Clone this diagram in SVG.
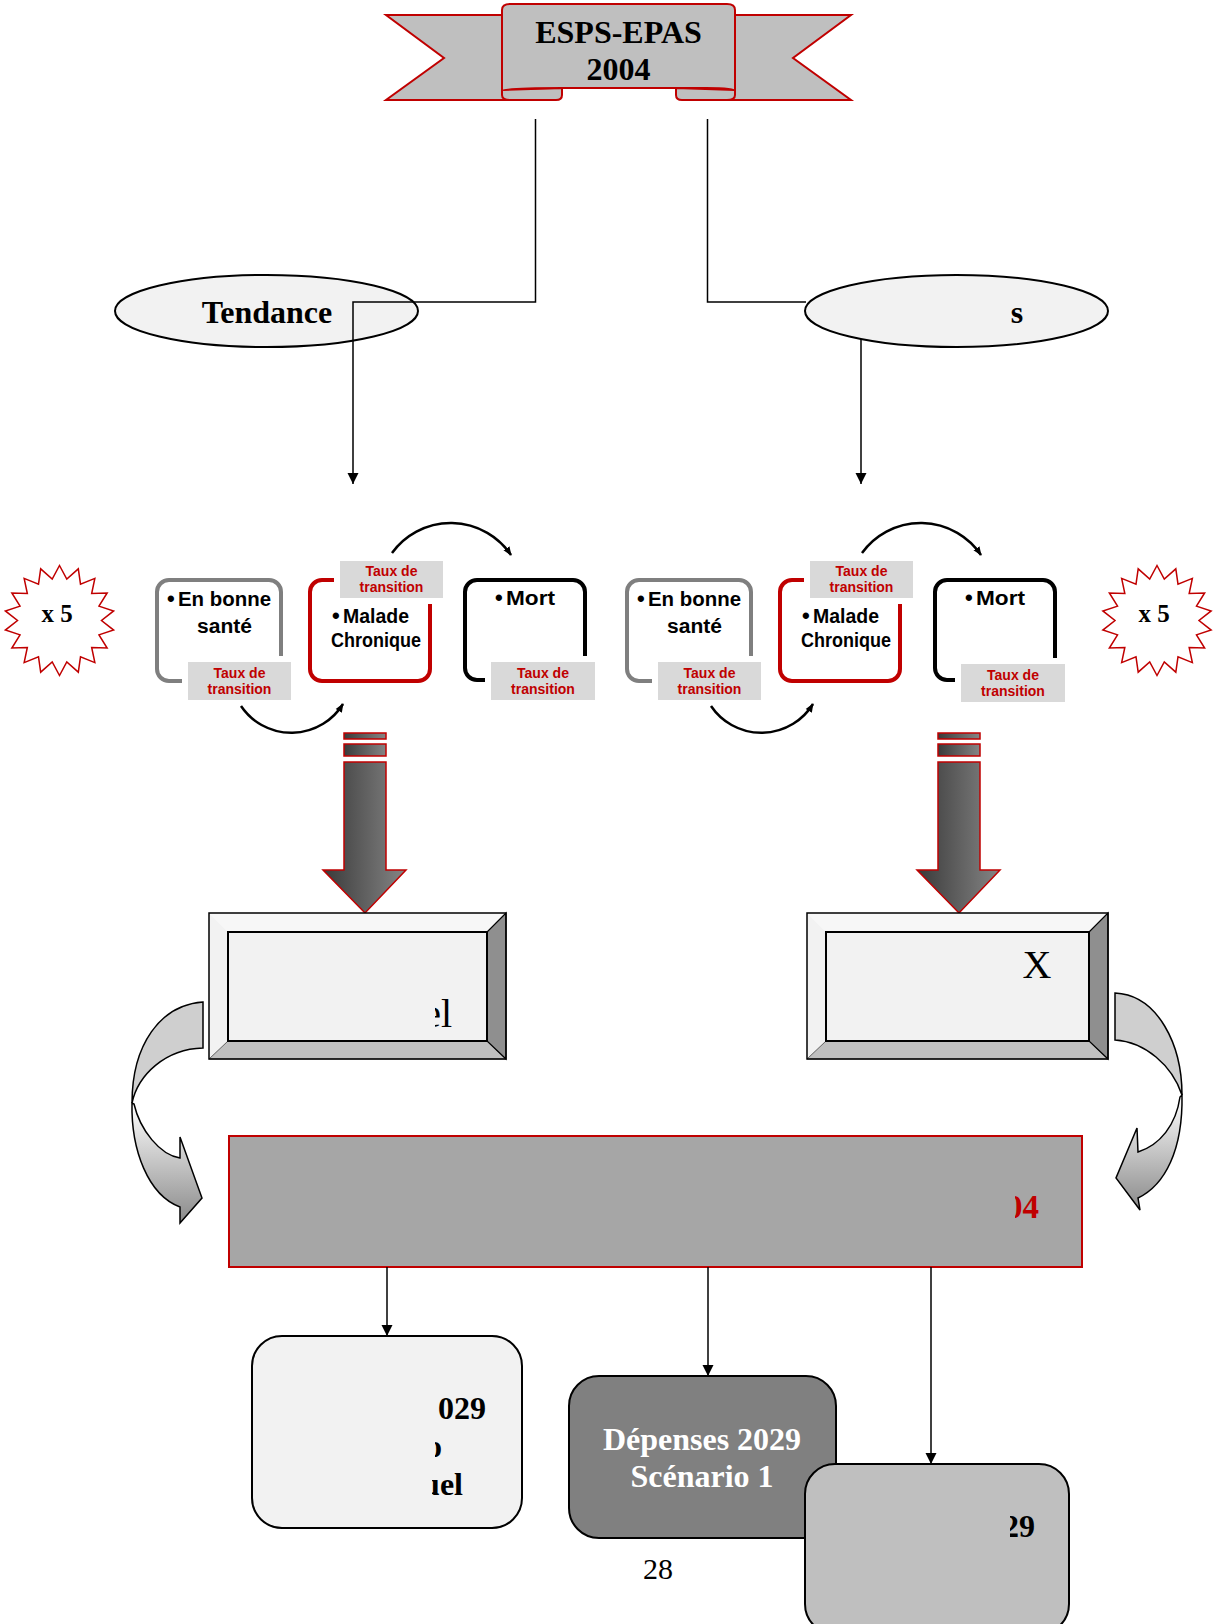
<svg xmlns="http://www.w3.org/2000/svg" width="1215" height="1624" viewBox="0 0 1215 1624">
<style>
.tnr{font-family:"Liberation Serif","Times New Roman",serif;font-weight:bold}
.reg{font-family:"Liberation Serif","Times New Roman",serif}
.cal{font-family:"Liberation Sans",Arial,sans-serif;font-weight:bold}
.taux{fill:#d9d9d9;stroke:#fff;stroke-width:12;paint-order:stroke}
.tauxt{font-family:"Liberation Sans",Arial,sans-serif;font-weight:bold;font-size:14px;fill:#c00000;text-anchor:middle}
.ntxt{font-size:19.5px;fill:#000}
.bul{font-size:22px}
.ell{fill:#f2f2f2;stroke:#000;stroke-width:2}
.conn{fill:none;stroke:#000;stroke-width:1.5}
.arc{fill:none;stroke:#000;stroke-width:2.5}
.bigarrow{fill:url(#gArrow);stroke:#c00000;stroke-width:1.5}
.rbox{stroke:#000;stroke-width:2}
</style>
<defs>
<marker id="ah" viewBox="0 0 10 10" refX="10" refY="5" markerUnits="userSpaceOnUse" markerWidth="11" markerHeight="14" orient="auto">
<path d="M0,0 L10,5 L0,10 Z" fill="#000"/>
</marker>
<marker id="ahs" viewBox="0 0 10 10" refX="9" refY="5" markerUnits="userSpaceOnUse" markerWidth="9" markerHeight="9" orient="auto">
<path d="M0,1 L10,5 L0,9 Z" fill="#000"/>
</marker>
<linearGradient id="gArrow" x1="0" y1="0" x2="1" y2="0">
<stop offset="0" stop-color="#3a3a3a"/>
<stop offset="1" stop-color="#858585"/>
</linearGradient>
<linearGradient id="gCurve" x1="0" y1="0" x2="0" y2="1">
<stop offset="0" stop-color="#ffffff"/>
<stop offset="1" stop-color="#8a8a8a"/>
</linearGradient>
<polygon id="star" points="0,-55 7.29,-41.36 18.81,-51.68 21,-36.37 35.35,-42.13 32.17,-27 47.63,-27.5 39.47,-14.36 54.16,-9.55 42,0 54.16,9.55 39.47,14.36 47.63,27.5 32.17,27 35.35,42.13 21,36.37 18.81,51.68 7.29,41.36 0,55 -7.29,41.36 -18.81,51.68 -21,36.37 -35.35,42.13 -32.17,27 -47.63,27.5 -39.47,14.36 -54.16,9.55 -42,0 -54.16,-9.55 -39.47,-14.36 -47.63,-27.5 -32.17,-27 -35.35,-42.13 -21,-36.37 -18.81,-51.68 -7.29,-41.36" fill="#fff" stroke="#c00000" stroke-width="1.5"/>
<clipPath id="clipB1"><rect x="435" y="930" width="60" height="110"/></clipPath>
<clipPath id="clipMain"><rect x="1015" y="1180" width="60" height="50"/></clipPath>
<clipPath id="clipL2"><rect x="435" y="1425" width="60" height="40"/></clipPath>
<clipPath id="clipL3"><rect x="432" y="1465" width="60" height="40"/></clipPath>
<clipPath id="clipB3"><rect x="1010" y="1500" width="60" height="45"/></clipPath>
</defs>
<rect width="1215" height="1624" fill="#fff"/>

<!-- Banner -->
<g id="banner">
<polygon points="386,15 520,15 520,100 386,100 444,58" fill="#bfbfbf" stroke="#c00000" stroke-width="2"/>
<polygon points="851,15 715,15 715,100 851,100 793,58" fill="#bfbfbf" stroke="#c00000" stroke-width="2"/>
<path d="M502,90 L502,95 Q502,100 510,100 L556,100 Q562,100 562,95 L562,88 Z" fill="#bfbfbf" stroke="#c00000" stroke-width="2"/>
<path d="M735,90 L735,95 Q735,100 727,100 L682,100 Q676,100 676,95 L676,88 Z" fill="#bfbfbf" stroke="#c00000" stroke-width="2"/>
<path d="M502,91 L502,10 Q502,4 510,4 L727,4 Q735,4 735,10 L735,91 Q735,88 706,88 L562,88 Q502,88 502,91 Z" fill="#bfbfbf" stroke="#c00000" stroke-width="2"/>
<text class="tnr" x="618.5" y="43" font-size="32" text-anchor="middle">ESPS-EPAS</text>
<text class="tnr" x="618.5" y="80" font-size="32" text-anchor="middle">2004</text>
</g>

<!-- Ellipses -->
<g id="tendance">
<ellipse class="ell" cx="266.5" cy="311" rx="151.5" ry="36"/>
<text class="tnr" x="267" y="323" font-size="32" text-anchor="middle">Tendance</text>
</g>
<g id="scenarios">
<ellipse class="ell" cx="956.5" cy="311" rx="151.5" ry="36"/>
<text class="tnr" x="1017" y="323" font-size="32" text-anchor="middle">s</text>
</g>

<!-- Stars -->
<g id="star-left">
<use href="#star" transform="translate(59.5,620.5)"/>
<text class="tnr" x="57" y="622" font-size="25" text-anchor="middle">x 5</text>
</g>
<g id="star-right">
<use href="#star" transform="translate(1157,620.5)"/>
<text class="tnr" x="1154" y="622" font-size="25" text-anchor="middle">x 5</text>
</g>

<!-- Left cycle -->
<g id="cycle-left">
<g id="cl-sante">
<rect x="157" y="580" width="124" height="101" rx="12" fill="none" stroke="#7f7f7f" stroke-width="4"/>
<text class="cal ntxt bul" x="167" y="606">•</text>
<text class="cal ntxt" x="178" y="606" textLength="93" lengthAdjust="spacingAndGlyphs">En bonne</text>
<text class="cal ntxt" x="197" y="633" textLength="55" lengthAdjust="spacingAndGlyphs">santé</text>
<rect class="taux" x="188" y="662" width="103" height="38"/>
<text class="tauxt" x="239.5" y="678">Taux de</text>
<text class="tauxt" x="239.5" y="694">transition</text>
</g>
<g id="cl-malade">
<rect x="310" y="580" width="120" height="101" rx="12" fill="none" stroke="#c00000" stroke-width="4"/>
<rect class="taux" x="340" y="561" width="103" height="37"/>
<text class="tauxt" x="391.5" y="576">Taux de</text>
<text class="tauxt" x="391.5" y="592">transition</text>
<text class="cal ntxt bul" x="332" y="623">•</text>
<text class="cal ntxt" x="343" y="623" textLength="66" lengthAdjust="spacingAndGlyphs">Malade</text>
<text class="cal ntxt" x="331" y="647" textLength="90" lengthAdjust="spacingAndGlyphs">Chronique</text>
</g>
<g id="cl-mort">
<rect x="465" y="580" width="120" height="100" rx="12" fill="none" stroke="#000" stroke-width="4"/>
<text class="cal ntxt bul" x="495" y="605">•</text>
<text class="cal ntxt" x="506" y="605" textLength="49" lengthAdjust="spacingAndGlyphs">Mort</text>
<rect class="taux" x="491" y="662" width="104" height="38"/>
<text class="tauxt" x="543" y="678">Taux de</text>
<text class="tauxt" x="543" y="694">transition</text>
</g>
<path class="arc" d="M392,553 A72.6,72.6 0 0 1 511,555" marker-end="url(#ahs)"/>
<path class="arc" d="M241,706 A60.7,60.7 0 0 0 343,704" marker-end="url(#ahs)"/>
</g>

<!-- Right cycle -->
<g id="cycle-right" transform="translate(470,0)">
<g id="cr-sante">
<rect x="157" y="580" width="124" height="101" rx="12" fill="none" stroke="#7f7f7f" stroke-width="4"/>
<text class="cal ntxt bul" x="167" y="606">•</text>
<text class="cal ntxt" x="178" y="606" textLength="93" lengthAdjust="spacingAndGlyphs">En bonne</text>
<text class="cal ntxt" x="197" y="633" textLength="55" lengthAdjust="spacingAndGlyphs">santé</text>
<rect class="taux" x="188" y="662" width="103" height="38"/>
<text class="tauxt" x="239.5" y="678">Taux de</text>
<text class="tauxt" x="239.5" y="694">transition</text>
</g>
<g id="cr-malade">
<rect x="310" y="580" width="120" height="101" rx="12" fill="none" stroke="#c00000" stroke-width="4"/>
<rect class="taux" x="340" y="561" width="103" height="37"/>
<text class="tauxt" x="391.5" y="576">Taux de</text>
<text class="tauxt" x="391.5" y="592">transition</text>
<text class="cal ntxt bul" x="332" y="623">•</text>
<text class="cal ntxt" x="343" y="623" textLength="66" lengthAdjust="spacingAndGlyphs">Malade</text>
<text class="cal ntxt" x="331" y="647" textLength="90" lengthAdjust="spacingAndGlyphs">Chronique</text>
</g>
<g id="cr-mort">
<rect x="465" y="580" width="120" height="100" rx="12" fill="none" stroke="#000" stroke-width="4"/>
<text class="cal ntxt bul" x="495" y="605">•</text>
<text class="cal ntxt" x="506" y="605" textLength="49" lengthAdjust="spacingAndGlyphs">Mort</text>
<rect class="taux" x="491" y="664" width="104" height="38"/>
<text class="tauxt" x="543" y="680">Taux de</text>
<text class="tauxt" x="543" y="696">transition</text>
</g>
<path class="arc" d="M392,553 A72.6,72.6 0 0 1 511,555" marker-end="url(#ahs)"/>
<path class="arc" d="M241,706 A60.7,60.7 0 0 0 343,704" marker-end="url(#ahs)"/>
</g>

<!-- Big striped arrows -->
<g id="bigarrow-left">
<rect class="bigarrow" x="344" y="733" width="42" height="6"/>
<rect class="bigarrow" x="344" y="744" width="42" height="12"/>
<polygon class="bigarrow" points="344,762 386,762 386,870 406,870 365,913 323,870 344,870"/>
</g>
<g id="bigarrow-right">
<rect class="bigarrow" x="938" y="733" width="42" height="6"/>
<rect class="bigarrow" x="938" y="744" width="42" height="12"/>
<polygon class="bigarrow" points="938,762 980,762 980,870 1000,870 959,913 917,870 938,870"/>
</g>

<!-- Bevel boxes -->
<g id="bevel-left">
<polygon points="209,913 506,913 487,932 228,932" fill="#f7f7f7"/>
<polygon points="209,913 228,932 228,1041 209,1059" fill="#f2f2f2"/>
<polygon points="209,1059 506,1059 487,1041 228,1041" fill="#c0c0c0" stroke="#444" stroke-width="0.8"/>
<polygon points="506,913 506,1059 487,1041 487,932" fill="#8f8f8f" stroke="#000" stroke-width="1.2"/>
<rect x="209" y="913" width="297" height="146" fill="none" stroke="#000" stroke-width="1.5"/>
<rect x="228" y="932" width="259" height="109" fill="#f2f2f2" stroke="#000" stroke-width="2"/>
<text class="reg" x="452" y="1027" font-size="40" text-anchor="end" clip-path="url(#clipB1)">el</text>
</g>
<g id="bevel-right">
<polygon points="807,913 1108,913 1089,932 826,932" fill="#f7f7f7"/>
<polygon points="807,913 826,932 826,1041 807,1059" fill="#f2f2f2"/>
<polygon points="807,1059 1108,1059 1089,1041 826,1041" fill="#c0c0c0" stroke="#444" stroke-width="0.8"/>
<polygon points="1108,913 1108,1059 1089,1041 1089,932" fill="#8f8f8f" stroke="#000" stroke-width="1.2"/>
<rect x="807" y="913" width="301" height="146" fill="none" stroke="#000" stroke-width="1.5"/>
<rect x="826" y="932" width="263" height="109" fill="#f2f2f2" stroke="#000" stroke-width="2"/>
<text class="reg" x="1037" y="978" font-size="40" text-anchor="middle">X</text>
</g>

<!-- Curved arrows -->
<g id="curve-left" stroke="#000" stroke-width="1.5">
<path d="M132,1103 C131,1150 148,1195 180,1207 L180,1223 L202,1198 L180,1137 L180,1158 C160,1155 140,1130 134,1104 Z" fill="url(#gCurve)"/>
<path d="M203,1002 C160,1005 132,1045 132,1103 C138,1075 165,1049 203,1048 Z" fill="#cfcfcf"/>
</g>
<g id="curve-right" stroke="#000" stroke-width="1.5">
<path d="M1182,1095 C1183,1150 1165,1185 1138,1198 L1140,1210 L1116,1178 L1137,1128 L1138,1152 C1160,1145 1176,1125 1180,1097 Z" fill="url(#gCurve)"/>
<path d="M1115,993 C1158,995 1182,1045 1182,1095 C1172,1065 1145,1042 1115,1040 Z" fill="#cfcfcf"/>
</g>

<!-- Main box -->
<g id="main-box">
<rect x="229" y="1136" width="853" height="131" fill="#a6a6a6" stroke="#c00000" stroke-width="2"/>
<text class="tnr" x="1039" y="1218" font-size="33" fill="#c00000" text-anchor="end" clip-path="url(#clipMain)">04</text>
</g>

<!-- Bottom boxes -->
<g id="result-1">
<rect class="rbox" x="252" y="1336" width="270" height="192" rx="30" fill="#f2f2f2"/>
<text class="tnr" x="486" y="1419" font-size="32" text-anchor="end">029</text>
<text class="tnr" x="442" y="1457" font-size="32" text-anchor="end" clip-path="url(#clipL2)">o</text>
<text class="tnr" x="463" y="1495" font-size="32" text-anchor="end" clip-path="url(#clipL3)">uel</text>
</g>
<g id="result-2">
<rect class="rbox" x="569" y="1376" width="267" height="162" rx="30" fill="#808080"/>
<text class="tnr" x="702" y="1450" font-size="32" fill="#fff" text-anchor="middle">Dépenses 2029</text>
<text class="tnr" x="702" y="1487" font-size="32" fill="#fff" text-anchor="middle">Scénario 1</text>
</g>
<g id="result-3">
<rect class="rbox" x="805" y="1464" width="264" height="170" rx="30" fill="#bfbfbf"/>
<text class="tnr" x="1035" y="1537" font-size="32" text-anchor="end" clip-path="url(#clipB3)">29</text>
</g>

<text class="reg" x="658" y="1579" font-size="30" text-anchor="middle">28</text>

<!-- Connectors -->
<g id="connectors">
<path class="conn" d="M535.5,119 V302 H353 V484" marker-end="url(#ah)"/>
<path class="conn" d="M707.5,119 V302 H806"/>
<path class="conn" d="M861,339 V484" marker-end="url(#ah)"/>
<path class="conn" d="M387,1267 V1336" marker-end="url(#ah)"/>
<path class="conn" d="M708,1267 V1376" marker-end="url(#ah)"/>
<path class="conn" d="M931,1267 V1464" marker-end="url(#ah)"/>
</g>
</svg>
